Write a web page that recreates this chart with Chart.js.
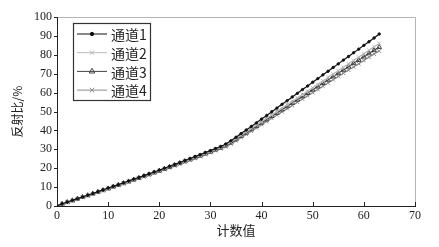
<!DOCTYPE html>
<html>
<head>
<meta charset="utf-8">
<script src="https://cdn.jsdelivr.net/npm/chart.js@4.4.0/dist/chart.umd.min.js"></script>
<style>
    html, body { margin: 0; padding: 0; background: #fff; }
    #wrap { width: 439px; height: 247px; }
</style>
</head>
<body>
<div id="wrap"><canvas id="reflectChart" width="439" height="247"></canvas></div>
<script>
// Chart data
const counts = [0, 1, 2, 3, 4, 5, 6, 7, 8, 9, 10, 11, 12, 13, 14, 15, 16, 17, 18, 19,
    20, 21, 22, 23, 24, 25, 26, 27, 28, 29, 30, 31, 32, 33, 34, 35, 36, 37, 38, 39,
    40, 41, 42, 43, 44, 45, 46, 47, 48, 49, 50, 51, 52, 53, 54, 55, 56, 57, 58, 59,
    60, 61, 62, 63];

const channel1 = [0, 1.2, 2.1, 3.0, 3.9, 4.8, 5.7, 6.6, 7.6, 8.5, 9.5, 10.4, 11.3, 12.3, 13.2, 14.2, 15.1, 16.1, 17.0, 18.0,
    19.0, 20.0, 21.0, 22.0, 23.0, 24.1, 25.1, 26.2, 27.2, 28.3, 29.3, 30.4, 31.5, 32.8, 34.5, 36.4, 38.3, 40.2, 42.1, 44.0,
    46.0, 47.9, 49.9, 51.8, 53.8, 55.7, 57.7, 59.6, 61.6, 63.5, 65.5, 67.4, 69.4, 71.3, 73.3, 75.2, 77.2, 79.1, 81.1, 83.0,
    85.0, 86.9, 88.9, 91.0];

const channel2 = [0, 1.1, 2.0, 2.9, 3.8, 4.7, 5.6, 6.5, 7.5, 8.4, 9.3, 10.3, 11.2, 12.1, 13.1, 14.0, 15.0, 15.9, 16.9, 17.8,
    18.8, 19.8, 20.8, 21.8, 22.8, 23.8, 24.8, 25.9, 26.9, 27.9, 29.0, 30.0, 31.1, 32.3, 33.9, 35.6, 37.4, 39.2, 41.0, 42.8,
    44.6, 46.4, 48.2, 50.0, 51.8, 53.6, 55.4, 57.2, 59.0, 60.8, 62.6, 64.4, 66.2, 68.0, 69.8, 71.6, 73.4, 75.2, 77.0, 78.8,
    80.6, 82.4, 84.2, 86.0];

const channel3 = [0, 1.1, 2.0, 2.9, 3.8, 4.7, 5.6, 6.5, 7.4, 8.3, 9.2, 10.2, 11.1, 12.0, 12.9, 13.9, 14.8, 15.8, 16.7, 17.7,
    18.6, 19.6, 20.6, 21.6, 22.6, 23.6, 24.6, 25.6, 26.6, 27.7, 28.7, 29.8, 30.8, 32.0, 33.5, 35.2, 37.0, 38.7, 40.5, 42.2,
    44.0, 45.7, 47.5, 49.2, 51.0, 52.7, 54.5, 56.2, 58.0, 59.7, 61.5, 63.2, 65.0, 66.7, 68.5, 70.2, 72.0, 73.7, 75.5, 77.2,
    79.0, 80.7, 82.4, 84.0];

const channel4 = [0, 1.0, 1.9, 2.8, 3.7, 4.6, 5.5, 6.4, 7.3, 8.2, 9.1, 10.0, 10.9, 11.8, 12.8, 13.7, 14.6, 15.5, 16.5, 17.4,
    18.3, 19.3, 20.2, 21.2, 22.2, 23.2, 24.2, 25.2, 26.2, 27.2, 28.2, 29.3, 30.3, 31.4, 32.9, 34.5, 36.2, 37.9, 39.6, 41.3,
    43.0, 44.7, 46.4, 48.1, 49.8, 51.5, 53.2, 54.9, 56.6, 58.3, 60.0, 61.7, 63.4, 65.1, 66.8, 68.5, 70.2, 71.9, 73.6, 75.3,
    77.0, 78.7, 80.4, 82.0];

const seriesNames = ['通道1', '通道2', '通道3', '通道4'];
const yTicks = [0, 10, 20, 30, 40, 50, 60, 70, 80, 90, 100];
const xTicks = [0, 10, 20, 30, 40, 50, 60, 70];

const serifFont = '"Liberation Serif", "DejaVu Serif", serif';
const cjkFont = '"Noto Sans CJK SC", "Noto Sans", sans-serif';

function toPoints(values) {
    return values.map((v, i) => ({ x: counts[i], y: v }));
}

function makeSet(label, values, color, style, radius) {
    return {
        label: label,
        data: toPoints(values),
        borderColor: color,
        backgroundColor: color,
        borderWidth: 1.2,
        pointStyle: style,
        pointRadius: radius,
        pointBorderColor: color,
        pointBackgroundColor: style === 'circle' ? color : 'rgba(0,0,0,0)',
        pointBorderWidth: 1,
        tension: 0
    };
}

// frame, inward ticks and boxed legend
const framePlugin = {
    id: 'framePlugin',
    beforeDatasetsDraw(chart) {
        const { ctx, chartArea: a } = chart;
        ctx.save();
        ctx.strokeStyle = '#b5b5b5';
        ctx.lineWidth = 1;
        ctx.beginPath();
        ctx.moveTo(a.left, a.top + 0.5);
        ctx.lineTo(a.right + 0.5, a.top + 0.5);
        ctx.lineTo(a.right + 0.5, a.bottom);
        ctx.stroke();

        ctx.strokeStyle = '#222';
        const xs = chart.scales.x;
        const ys = chart.scales.y;
        ctx.beginPath();
        xTicks.forEach(t => {
            const px = Math.round(xs.getPixelForValue(t)) + 0.5;
            ctx.moveTo(px, a.bottom);
            ctx.lineTo(px, a.bottom - 4);
        });
        yTicks.forEach(t => {
            const py = Math.round(ys.getPixelForValue(t)) + 0.5;
            ctx.moveTo(a.left - 3, py);
            ctx.lineTo(a.left + 1, py);
        });
        ctx.stroke();
        ctx.restore();
    },
    afterDraw(chart) {
        const { ctx, chartArea: a } = chart;
        const left = a.left + 16;
        const top = a.top + 6;
        const boxW = 77;
        const boxH = 77;
        ctx.save();
        ctx.fillStyle = '#fff';
        ctx.fillRect(left, top, boxW, boxH);
        ctx.strokeStyle = '#333';
        ctx.lineWidth = 1.2;
        ctx.strokeRect(left + 0.5, top + 0.5, boxW, boxH);

        chart.data.datasets.forEach((ds, i) => {
            const cy = top + 11 + i * 18.7;
            ctx.strokeStyle = ds.borderColor;
            ctx.lineWidth = 1;
            ctx.beginPath();
            ctx.moveTo(left + 4, cy);
            ctx.lineTo(left + 34, cy);
            ctx.stroke();
            ctx.fillStyle = ds.pointBackgroundColor;
            ctx.strokeStyle = ds.pointBorderColor;
            Chart.helpers.drawPoint(ctx, {
                pointStyle: ds.pointStyle,
                radius: ds.pointRadius + 0.5,
                borderWidth: 1,
                rotation: 0
            }, left + 19, cy);

            ctx.fillStyle = '#222';
            ctx.font = '14px ' + cjkFont;
            ctx.textBaseline = 'middle';
            ctx.textAlign = 'left';
            ctx.fillText(ds.label, left + 38, cy + 1);
        });
        ctx.restore();
    }
};

const ctx = document.getElementById('reflectChart').getContext('2d');

const reflectChart = new Chart(ctx, {
    type: 'line',
    data: {
        datasets: [
            makeSet(seriesNames[0], channel1, '#111111', 'circle', 1.2),
            makeSet(seriesNames[1], channel2, '#b9b9b9', 'crossRot', 2.6),
            makeSet(seriesNames[2], channel3, '#444444', 'triangle', 2.7),
            makeSet(seriesNames[3], channel4, '#8a8a8a', 'crossRot', 2.6)
        ]
    },
    options: {
        responsive: false,
        animation: false,
        devicePixelRatio: 1,
        layout: {
            padding: { top: 17, right: 24, left: 0, bottom: 0 }
        },
        plugins: {
            legend: { display: false },
            tooltip: { enabled: false }
        },
        scales: {
            x: {
                type: 'linear',
                min: 0,
                max: 70,
                afterFit: function(scale) { scale.height = 41; },
                afterBuildTicks: function(scale) {
                    scale.ticks = xTicks.map(v => ({ value: v }));
                },
                grid: { display: true, drawOnChartArea: false, drawTicks: false },
                border: { display: true, color: '#222', width: 1 },
                ticks: {
                    color: '#222',
                    padding: 3,
                    maxRotation: 0,
                    font: { family: serifFont, size: 12 }
                },
                title: {
                    display: true,
                    text: '计数值',
                    color: '#222',
                    padding: { top: 0, bottom: 9 },
                    font: { family: cjkFont, size: 13 }
                }
            },
            y: {
                min: 0,
                max: 100,
                afterFit: function(scale) { scale.width = 57; },
                afterBuildTicks: function(scale) {
                    scale.ticks = yTicks.map(v => ({ value: v }));
                },
                grid: { display: true, drawOnChartArea: false, drawTicks: false },
                border: { display: true, color: '#222', width: 1 },
                ticks: {
                    color: '#222',
                    padding: 5,
                    font: { family: serifFont, size: 12 }
                },
                title: {
                    display: true,
                    text: '反射比/%',
                    color: '#222',
                    padding: { top: 10, bottom: 4 },
                    font: { family: cjkFont, size: 12 }
                }
            }
        }
    },
    plugins: [framePlugin]
});
</script>
</body>
</html>
